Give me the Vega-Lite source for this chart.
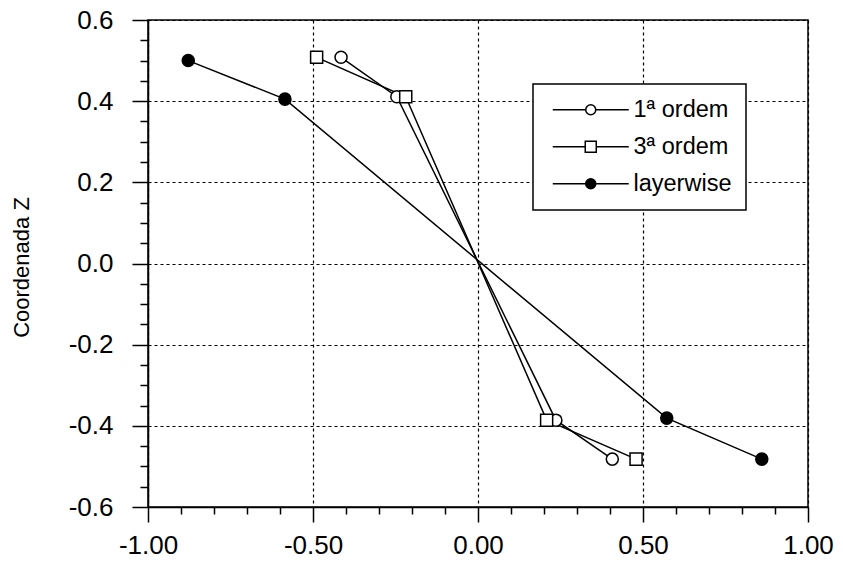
{
  "$schema": "https://vega.github.io/schema/vega-lite/v6.json",
  "width": 660,
  "height": 487,
  "autosize": "none",
  "padding": {"left": 148, "top": 20, "right": 35, "bottom": 59},
  "background": "white",
  "config": {
    "view": {"stroke": "black", "strokeWidth": 1.5},
    "font": "Liberation Sans"
  },
  "data": {
    "values": [
      {"series": "1ª ordem", "i": 1, "x": -0.415, "z": 0.508},
      {"series": "1ª ordem", "i": 2, "x": -0.246, "z": 0.411},
      {"series": "1ª ordem", "i": 3, "x": 0.236, "z": -0.386},
      {"series": "1ª ordem", "i": 4, "x": 0.407, "z": -0.482},
      {"series": "3ª ordem", "i": 1, "x": -0.489, "z": 0.508},
      {"series": "3ª ordem", "i": 2, "x": -0.219, "z": 0.411},
      {"series": "3ª ordem", "i": 3, "x": 0.208, "z": -0.386},
      {"series": "3ª ordem", "i": 4, "x": 0.479, "z": -0.482},
      {"series": "layerwise", "i": 1, "x": -0.878, "z": 0.5},
      {"series": "layerwise", "i": 2, "x": -0.585, "z": 0.405},
      {"series": "layerwise", "i": 3, "x": 0.572, "z": -0.381},
      {"series": "layerwise", "i": 4, "x": 0.86, "z": -0.482}
    ]
  },
  "resolve": {
    "axis": {"x": "independent", "y": "independent"},
    "scale": {"shape": "independent"}
  },
  "layer": [
    {
      "mark": {"type": "line", "color": "black", "strokeWidth": 1.5},
      "encoding": {
        "x": {
          "field": "x", "type": "quantitative",
          "scale": {"domain": [-1, 1], "nice": false, "zero": false},
          "axis": {
            "orient": "bottom", "title": null, "labels": false, "grid": false, "domain": false,
            "values": [-0.9, -0.8, -0.7, -0.6, -0.4, -0.3, -0.2, -0.1, 0.1, 0.2, 0.3, 0.4, 0.6, 0.7, 0.8, 0.9],
            "tickSize": 7, "tickWidth": 1.5, "tickColor": "black"
          }
        },
        "y": {
          "field": "z", "type": "quantitative",
          "scale": {"domain": [-0.6, 0.6], "nice": false, "zero": false},
          "axis": {
            "orient": "left", "title": null, "labels": false, "grid": false, "domain": false,
            "values": [-0.55, -0.5, -0.45, -0.35, -0.3, -0.25, -0.15, -0.1, -0.05, 0.05, 0.1, 0.15, 0.25, 0.3, 0.35, 0.45, 0.5, 0.55],
            "tickSize": 8, "tickWidth": 1.5, "tickColor": "black"
          }
        },
        "detail": {"field": "series"},
        "order": {"field": "i", "type": "quantitative"}
      }
    },
    {
      "mark": {"type": "point", "stroke": "black", "strokeWidth": 1.5, "size": 145, "opacity": 1, "fillOpacity": 1},
      "encoding": {
        "x": {
          "field": "x", "type": "quantitative",
          "scale": {"domain": [-1, 1], "nice": false, "zero": false},
          "axis": {
            "orient": "bottom", "title": null,
            "values": [-1, -0.5, 0, 0.5, 1],
            "labelExpr": "datum.value < 0 ? '-' + format(-datum.value, '.2f') : format(datum.value, '.2f')",
            "grid": true, "gridDash": [3, 3], "gridColor": "black", "gridWidth": 1.2, "gridOpacity": 1,
            "tickSize": 15, "tickWidth": 1.5, "tickColor": "black",
            "domainColor": "black", "domainWidth": 1.5,
            "labelFont": "Liberation Sans", "labelFontSize": 26, "labelColor": "black",
            "labelPadding": 10, "labelFlush": false, "labelOverlap": false
          }
        },
        "y": {
          "field": "z", "type": "quantitative",
          "scale": {"domain": [-0.6, 0.6], "nice": false, "zero": false},
          "axis": {
            "orient": "left",
            "title": "Coordenada Z",
            "titleFont": "Liberation Sans", "titleFontSize": 22, "titleFontWeight": "normal", "titleColor": "black",
            "titleX": -127, "titleY": 247, "titleAngle": -90, "titleAlign": "center", "titleBaseline": "middle",
            "values": [-0.6, -0.4, -0.2, 0, 0.2, 0.4, 0.6],
            "labelExpr": "datum.value < 0 ? '-' + format(-datum.value, '.1f') : format(datum.value, '.1f')",
            "grid": true, "gridDash": [3, 3], "gridColor": "black", "gridWidth": 1.2, "gridOpacity": 1,
            "tickSize": 16, "tickWidth": 1.5, "tickColor": "black",
            "domainColor": "black", "domainWidth": 1.5,
            "labelFont": "Liberation Sans", "labelFontSize": 26, "labelColor": "black",
            "labelPadding": 19, "labelFlush": false, "labelOverlap": false
          }
        },
        "shape": {
          "field": "series", "type": "nominal",
          "scale": {"domain": ["1ª ordem", "3ª ordem", "layerwise"], "range": ["circle", "square", "circle"]},
          "legend": null
        },
        "fill": {
          "field": "series", "type": "nominal",
          "scale": {"domain": ["1ª ordem", "3ª ordem", "layerwise"], "range": ["white", "white", "black"]},
          "legend": null
        }
      }
    },
    {
      "mark": {"type": "point", "stroke": "black", "strokeWidth": 1.5, "size": 100, "opacity": 0},
      "encoding": {
        "x": {"field": "x", "type": "quantitative", "scale": {"domain": [-1, 1], "nice": false, "zero": false}, "axis": null},
        "y": {"field": "z", "type": "quantitative", "scale": {"domain": [-0.6, 0.6], "nice": false, "zero": false}, "axis": null},
        "shape": {
          "field": "series", "type": "nominal",
          "scale": {
            "domain": ["1ª ordem", "3ª ordem", "layerwise"],
            "range": [
              "M-7.6,0L-1,0M1,0L7.6,0M-1,0A1,1,0,1,1,1,0A1,1,0,1,1,-1,0Z",
              "M-7.6,0L-1.1,0M1.1,0L7.6,0M-1.1,-1.1L1.1,-1.1L1.1,1.1L-1.1,1.1Z",
              "M-7.6,0L-1,0M1,0L7.6,0M-1,0A1,1,0,1,1,1,0A1,1,0,1,1,-1,0Z"
            ]
          },
          "legend": {
            "title": null,
            "orient": "none", "legendX": 385, "legendY": 64,
            "fillColor": "white", "strokeColor": "black",
            "padding": 14, "rowPadding": 12,
            "symbolSize": 100, "symbolOffset": 32, "labelOffset": 31,
            "symbolOpacity": 1,
            "symbolStrokeColor": "black", "symbolStrokeWidth": 1.5,
            "labelFont": "Liberation Sans", "labelFontSize": 23.5, "labelColor": "black",
            "encoding": {
              "legend": {"strokeWidth": {"value": 1.5}},
              "symbols": {
                "fill": {"value": {"expr": "datum.value === 'layerwise' ? 'black' : 'white'"}},
                "stroke": {"value": "black"},
                "strokeWidth": {"value": 1.5},
                "size": {"value": 100},
                "opacity": {"value": 1}
              }
            }
          }
        }
      }
    }
  ]
}
